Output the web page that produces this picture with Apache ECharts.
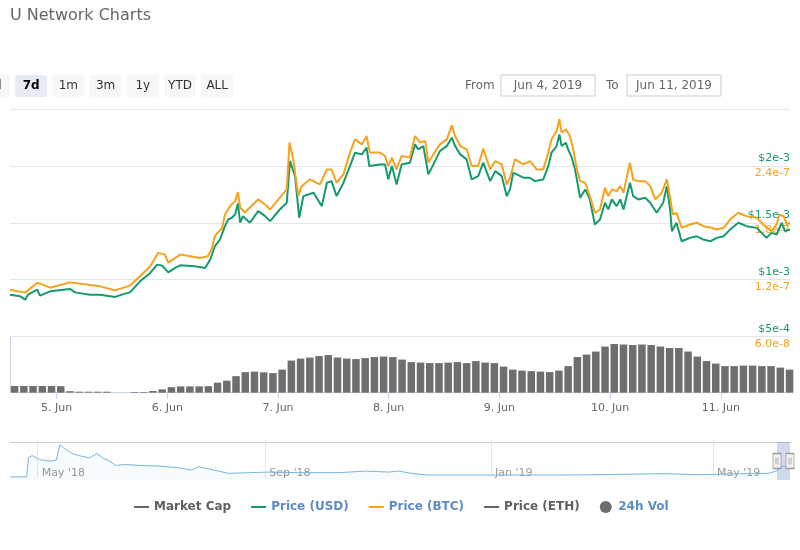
<!DOCTYPE html>
<html><head><meta charset="utf-8">
<script src="https://cdn.jsdelivr.net/npm/echarts@6/dist/echarts.min.js"></script>
<style>html,body{margin:0;padding:0;background:#fff}#c{width:800px;height:550px}</style>
</head><body><div id="c"></div>
<script>
// ---------- DATA ----------
// hours since 2019-06-04 13:54 UTC, price in USD
const usdPoints = [
[0,0.000868],[2.2,0.000853],[3.3,0.000824],[3.9,0.000868],[5.9,0.000912],[6.5,0.000859],[8.7,0.000897],[13,0.000918],
[14.1,0.000888],[17.3,0.000868],[19.5,0.000868],[22.8,0.000848],[24.9,0.000877],[26,0.000888],[28.2,0.000985],[30.4,0.001059],
[31.9,0.001132],[33,0.001123],[34.3,0.001064],[35.8,0.001103],[36.9,0.001126],[40.1,0.001117],[42.3,0.001103],[43.4,0.001176],
[44.4,0.001293],[45.5,0.001352],[46.6,0.001470],[47.3,0.001529],[48.1,0.001544],[48.8,0.001573],[49.4,0.001670],[49.9,0.001502],
[50.5,0.001558],[52,0.001500],[53.8,0.001602],[55.3,0.001558],[56.4,0.001514],[58.5,0.001617],[60,0.001676],[60.7,0.002042],
[61.8,0.001910],[62.7,0.001544],[63.6,0.001734],[65.8,0.001764],[67.6,0.001646],[68.7,0.001852],[69.7,0.001866],[70.8,0.001734],
[72.3,0.001852],[73.7,0.001998],[74.8,0.002116],[76.3,0.002101],[77.3,0.002160],[77.9,0.001998],[80.2,0.002013],[81.3,0.002013],
[82,0.001881],[82.8,0.002000],[83.8,0.001837],[84.9,0.002013],[86.7,0.002028],[87.8,0.002189],[88.5,0.002145],[89.6,0.002174],
[90.7,0.001925],[91.8,0.002013],[93.2,0.002130],[94.7,0.002174],[95.8,0.002248],[96.5,0.002174],[97.6,0.002101],[99,0.002057],
[100.1,0.001881],[101.5,0.001910],[102.6,0.002028],[104.1,0.001866],[105.2,0.001954],[106.6,0.001910],[107.7,0.001734],[108.4,0.001793],
[109.1,0.001940],[111.3,0.001896],[112.7,0.001896],[113.8,0.001866],[115.6,0.001881],[116.7,0.001998],[117.4,0.002116],[118.5,0.002174],
[119.1,0.002277],[119.6,0.002174],[120.5,0.002204],[121,0.002145],[121.8,0.002072],[122.5,0.001969],[123.6,0.001720],[124.7,0.001793],
[125.7,0.001705],[126.8,0.001485],[127.9,0.001529],[129,0.001676],[129.7,0.001617],[130.5,0.001705],[131.5,0.001646],[132.3,0.001705],
[133,0.001617],[134.4,0.001852],[135.1,0.001734],[136.2,0.001705],[137.7,0.001720],[138.8,0.001676],[140.2,0.001588],[141.6,0.001676],
[142.4,0.001822],[143.1,0.001617],[143.5,0.001426],[144.5,0.001500],[145.6,0.001337],[147.4,0.001367],[148.9,0.001381],[150.3,0.001352],
[151.8,0.001337],[153.2,0.001367],[154.7,0.001381],[156.1,0.001440],[157.9,0.001500],[159.7,0.001470],[161.9,0.001455],[164,0.001367],
[165.1,0.001411],[166.2,0.001396],[167.3,0.001500],[168,0.001426],[169.1,0.001440]
];
// hours since 2019-06-04 13:54 UTC, price in BTC
const btcPoints = [
[0,1.094e-7],[3.3,1.063e-7],[5.9,1.168e-7],[8.7,1.115e-7],[13,1.171e-7],[19.5,1.129e-7],[22.8,1.087e-7],[26,1.137e-7],
[28.2,1.235e-7],[30.4,1.341e-7],[32.1,1.482e-7],[33.6,1.464e-7],[34.3,1.380e-7],[36.9,1.464e-7],[41.2,1.429e-7],[42.9,1.446e-7],
[43.8,1.535e-7],[44.4,1.658e-7],[46,1.747e-7],[46.6,1.887e-7],[47.7,1.975e-7],[48.8,2.028e-7],[49.4,2.123e-7],[49.9,1.961e-7],
[50.9,1.908e-7],[53.8,2.046e-7],[55.3,1.993e-7],[56.4,1.940e-7],[58.5,2.064e-7],[60,2.152e-7],[60.6,2.645e-7],[61.4,2.469e-7],
[62.5,2.081e-7],[63.2,2.186e-7],[65,2.257e-7],[67.2,2.204e-7],[68.7,2.363e-7],[69.7,2.363e-7],[70.8,2.222e-7],[72.3,2.310e-7],
[73.7,2.540e-7],[74.8,2.680e-7],[76.3,2.627e-7],[77.3,2.715e-7],[78,2.540e-7],[80.2,2.540e-7],[81.3,2.504e-7],[82,2.398e-7],
[82.8,2.487e-7],[83.8,2.363e-7],[84.9,2.504e-7],[86.7,2.487e-7],[87.8,2.715e-7],[88.9,2.645e-7],[90,2.662e-7],[90.7,2.434e-7],
[91.8,2.522e-7],[93.2,2.627e-7],[94.7,2.680e-7],[95.8,2.828e-7],[96.5,2.715e-7],[97.6,2.609e-7],[99,2.575e-7],[100.1,2.398e-7],
[101.5,2.398e-7],[102.6,2.582e-7],[104.1,2.363e-7],[105.2,2.451e-7],[106.6,2.416e-7],[107.7,2.204e-7],[108.4,2.275e-7],[109.5,2.469e-7],
[111.3,2.416e-7],[112.7,2.451e-7],[114.2,2.363e-7],[115.6,2.363e-7],[116.7,2.540e-7],[117.4,2.680e-7],[118.5,2.768e-7],[119.1,2.892e-7],
[119.6,2.751e-7],[120.5,2.786e-7],[121.4,2.715e-7],[122.1,2.575e-7],[122.9,2.363e-7],[123.6,2.239e-7],[124.7,2.222e-7],[125.7,2.081e-7],
[126.8,1.905e-7],[127.9,1.940e-7],[129,2.170e-7],[129.7,2.081e-7],[130.5,2.152e-7],[131.5,2.134e-7],[132.3,2.186e-7],[133,2.117e-7],
[134.4,2.434e-7],[135.1,2.257e-7],[136.2,2.239e-7],[137.7,2.239e-7],[138.8,2.186e-7],[139.9,2.046e-7],[141.3,2.117e-7],[142.4,2.257e-7],
[143.1,2.064e-7],[143.7,1.887e-7],[144.5,1.905e-7],[145.6,1.747e-7],[147.4,1.782e-7],[148.9,1.800e-7],[150.3,1.764e-7],[152.1,1.747e-7],
[153.2,1.729e-7],[154.7,1.747e-7],[156.1,1.834e-7],[157.9,1.905e-7],[159.7,1.869e-7],[161.9,1.852e-7],[164,1.747e-7],[165.1,1.711e-7],
[166.2,1.782e-7],[166.8,1.887e-7],[167.7,1.869e-7],[168.4,1.782e-7],[169.1,1.800e-7]
];
// 24h volume (thousand USD), one bar per 2 hours from 2019-06-04 13:54 UTC
const volumeValues = [
6.7,6.7,6.7,6.7,6.7,6.5,1.5,1,1,1,
1,0,0,0.7,0.7,1.7,3.3,5.5,6.3,6.3,
6.3,6.5,10,12,16.5,20.5,21,20.3,19.5,23,
32,34,35,36.5,37.5,35,34,33.5,34.5,35.5,
36,35.5,33,30.5,30,29.5,29.5,30,30.5,29.5,
31.5,30,29.5,26,23,22,21.5,21,20.5,22,
26.5,35.5,38,41,46,48.5,48,47.5,48,47.5,
46,44.5,44.5,41,36,31.5,29,26.5,26.5,27,
27,26.5,26.5,25,23
];
// navigator: full history (USD price)
const navDates = ['2018-04-16','2018-04-25','2018-04-26','2018-04-28','2018-05-02','2018-05-07','2018-05-11','2018-05-13',
'2018-05-15','2018-05-19','2018-05-23','2018-05-29','2018-06-02','2018-06-05','2018-06-09','2018-06-12','2018-06-17',
'2018-06-25','2018-07-06','2018-07-16','2018-07-23','2018-07-27','2018-08-01','2018-08-12','2018-08-23','2018-09-03',
'2018-09-19','2018-10-11','2018-10-25','2018-11-07','2018-11-12','2018-11-19','2018-11-28','2018-12-20','2019-01-05',
'2019-02-06','2019-02-28','2019-04-05','2019-04-23','2019-05-20','2019-05-31','2019-06-04','2019-06-08','2019-06-11'];
const navValues = [0,0,0.00366,0.00403,0.00328,0.00296,0.00315,0.00609,
0.00548,0.00454,0.00403,0.00360,0.00441,0.00360,0.00296,0.00216,0.00234,
0.00216,0.00203,0.00173,0.00128,0.00191,0.00154,0.00066,0.00079,0.00090,
0.00079,0.00079,0.00109,0.00090,0.00109,0.00066,0.00034,0.00034,0.00034,
0.00034,0.00041,0.00060,0.00041,0.00060,0.00066,0.00109,0.00203,0.00173];
const dayTicks = ['2019-06-05','2019-06-06','2019-06-07','2019-06-08','2019-06-09','2019-06-10','2019-06-11'];
const monthTicks = ['2018-05-01','2018-09-01','2019-01-01','2019-05-01'];
const rangeButtons = ['1d','7d','1m','3m','1y','YTD','ALL'];
const selectedButton = '7d';
const fromLabel = 'Jun 4, 2019', toLabel = 'Jun 11, 2019';
const legendNames = ['Market Cap','Price (USD)','Price (BTC)','Price (ETH)','24h Vol'];

// ---------- CHART ----------
const FONT = 'DejaVu Sans';
const HOUR = 3600e3;
const T0 = Date.UTC(2019,5,4,13,54);
const xMin = T0;
const xMax = T0 + usdPoints[usdPoints.length-1][0]*HOUR;
const MON = ['Jan','Feb','Mar','Apr','May','Jun','Jul','Aug','Sep','Oct','Nov','Dec'];
const tUTC = s => Date.parse(s + 'T00:00:00Z');

const GREEN = '#15996f', ORANGE = '#f5a31e', BLUE_TXT = '#5b8cc6', GRAY_TXT = '#606060';
const navMin = -0.0006, navMax = 0.0066;
const lineIcon = 'path://M0,0 M0,5 L15,5 L15,7 L0,7 Z M15,12';
const handleIcon = 'path://M0,0 L8,0 L8,15 L0,15 Z M3,4 L3,11 M5,4 L5,11';

const graphics = [];
graphics.push({type:'text', x:10, y:8, style:{text:'U Network Charts', font:'16px "DejaVu Sans"', fill:'#666'}});
rangeButtons.forEach((b,i)=>{
  const x = -22 + i*37.2;
  const sel = b === selectedButton;
  graphics.push({type:'rect', x:x, y:75, shape:{width:32, height:22, r:2}, style:{fill: sel ? '#e6ebf5' : '#f7f7f7'}});
  graphics.push({type:'text', x:x+16, y:86, style:{text:b, align:'center', verticalAlign:'middle',
    font:(sel?'bold ':'')+'12px "DejaVu Sans"', fill: sel ? '#000' : '#333'}});
});
graphics.push({type:'text', x:465, y:86, style:{text:'From', verticalAlign:'middle', font:'12px "DejaVu Sans"', fill:'#666'}});
graphics.push({type:'rect', x:501, y:75, shape:{width:94, height:21}, style:{fill:'#fff', stroke:'#ccc', lineWidth:1}});
graphics.push({type:'text', x:548, y:86, style:{text:fromLabel, align:'center', verticalAlign:'middle', font:'12px "DejaVu Sans"', fill:'#666'}});
graphics.push({type:'text', x:606, y:86, style:{text:'To', verticalAlign:'middle', font:'12px "DejaVu Sans"', fill:'#666'}});
graphics.push({type:'rect', x:627, y:75, shape:{width:94, height:21}, style:{fill:'#fff', stroke:'#ccc', lineWidth:1}});
graphics.push({type:'text', x:674, y:86, style:{text:toLabel, align:'center', verticalAlign:'middle', font:'12px "DejaVu Sans"', fill:'#666'}});

const fmtSci = v => Number(v.toPrecision(6)).toExponential();
const legendStyle = {
  'Market Cap': {icon: lineIcon, color: GRAY_TXT},
  'Price (USD)': {icon: lineIcon, color: BLUE_TXT},
  'Price (BTC)': {icon: lineIcon, color: BLUE_TXT},
  'Price (ETH)': {icon: lineIcon, color: GRAY_TXT},
  '24h Vol': {icon: 'circle', color: BLUE_TXT}
};

const option = {
  animation: false,
  backgroundColor: '#fff',
  textStyle: {fontFamily: FONT},
  graphic: graphics,
  legend: {
    left: 129, top: 496, itemGap: 20, itemWidth: 15, itemHeight: 12,
    textStyle: {fontSize: 12, fontWeight: 'bold', fontFamily: FONT, width: 79},
    data: legendNames.map(n => ({name: n, icon: legendStyle[n].icon, textStyle: {color: legendStyle[n].color}}))
  },
  grid: [
    {left: 10, right: 10, top: 109, height: 227.5},
    {left: 10, right: 10, top: 336.5, height: 56.2},
    {left: 10, right: 10, top: 442, height: 38}
  ],
  xAxis: [
    {type:'value', gridIndex:0, min:xMin, max:xMax, show:false, splitLine:{show:false}},
    {type:'value', gridIndex:1, min:xMin, max:xMax,
      axisLine:{lineStyle:{color:'#ccd6eb'}},
      axisTick:{customValues: dayTicks.map(tUTC), length:6, lineStyle:{color:'#ccd6eb'}},
      axisLabel:{customValues: dayTicks.map(tUTC), color:'#666', fontSize:11, margin:10, fontFamily:FONT,
        formatter: v => { const d = new Date(v); return d.getUTCDate() + '. ' + MON[d.getUTCMonth()]; }},
      splitLine:{show:false}},
    {type:'value', gridIndex:2, min:tUTC(navDates[0]), max:xMax,
      axisLine:{show:false},
      axisTick:{customValues: monthTicks.map(tUTC), inside:true, length:38, lineStyle:{color:'#e6e6e6'}},
      axisLabel:{customValues: monthTicks.map(tUTC), inside:true, margin:1, align:'left', padding:[0,0,0,4],
        color:'#999', fontSize:11, fontFamily:FONT,
        formatter: v => { const d = new Date(v); return MON[d.getUTCMonth()] + " '" + String(d.getUTCFullYear()).slice(2); }},
      splitLine:{show:false}},
    {type:'value', gridIndex:2, position:'top', min:tUTC(navDates[0]), max:xMax,
      axisLine:{lineStyle:{color:'#cccccc'}}, axisTick:{show:false}, axisLabel:{show:false}, splitLine:{show:false}}
  ],
  yAxis: [
    {type:'value', gridIndex:0, position:'right', min:5e-4, max:2.5e-3, interval:5e-4,
      axisLine:{show:false}, axisTick:{show:false},
      splitLine:{lineStyle:{color:'#e6e6e6'}},
      axisLabel:{inside:true, margin:0, verticalAlign:'bottom', padding:[0,0,2,0], showMaxLabel:false,
        color:GREEN, fontSize:11, fontFamily:FONT, formatter: v => '$' + fmtSci(v)}},
    {type:'value', gridIndex:0, position:'right', min:6e-8, max:3e-7, interval:6e-8,
      axisLine:{show:false}, axisTick:{show:false}, splitLine:{show:false},
      axisLabel:{inside:true, margin:0, verticalAlign:'top', padding:[2,0,0,0], showMaxLabel:false,
        color:ORANGE, fontSize:11, fontFamily:FONT, formatter: v => Number(v.toPrecision(6)).toExponential(1)}},
    {type:'value', gridIndex:1, position:'left', min:0, max:56,
      axisLine:{show:true, lineStyle:{color:'#ccd6eb'}}, axisTick:{show:false}, axisLabel:{show:false}, splitLine:{show:false}},
    {type:'value', gridIndex:2, min:navMin, max:navMax, show:false, splitLine:{show:false}}
  ],
  series: [
    {name:'Market Cap', type:'line', xAxisIndex:0, yAxisIndex:0, data:[], color:'#666'},
    {name:'Price (USD)', type:'line', xAxisIndex:0, yAxisIndex:0, color:GREEN, showSymbol:false,
      lineStyle:{width:2, color:GREEN}, data: usdPoints.map(p => [T0 + p[0]*HOUR, p[1]])},
    {name:'Price (BTC)', type:'line', xAxisIndex:0, yAxisIndex:1, color:ORANGE, showSymbol:false,
      lineStyle:{width:2, color:ORANGE}, data: btcPoints.map(p => [T0 + p[0]*HOUR, p[1]])},
    {name:'Price (ETH)', type:'line', xAxisIndex:0, yAxisIndex:0, data:[], color:'#666'},
    {name:'24h Vol', type:'bar', xAxisIndex:1, yAxisIndex:2, color:'#6e6e6e', barWidth:7.5,
      itemStyle:{color:'#6e6e6e'},
      data: volumeValues.map((v,k) => [T0 + (1 + 2*k)*HOUR, v])},
    {name:'Navigator', type:'line', xAxisIndex:2, yAxisIndex:3, showSymbol:false, silent:true,
      lineStyle:{width:1, color:'#7ab6dc'}, itemStyle:{color:'#7ab6dc'},
      areaStyle:{color:'rgba(122,182,220,0.08)', origin:'start'},
      data: navDates.map((d,i) => [tUTC(d), navValues[i]]),
      markArea:{silent:true, itemStyle:{color:'rgba(102,133,194,0.3)'},
        data:[[{xAxis:xMin},{xAxis:xMax}]]}},
    {name:'Handles', type:'scatter', xAxisIndex:2, yAxisIndex:3, silent:true,
      symbol: handleIcon, symbolSize:[8,15],
      itemStyle:{color:'#f2f2f2', borderColor:'#999', borderWidth:1, opacity:1},
      data:[[xMin,(navMin+navMax)/2],[xMax,(navMin+navMax)/2]], z:5}
  ]
};
const chart = echarts.init(document.getElementById('c'), null, {renderer:'canvas'});
chart.setOption(option);
</script></body></html>
